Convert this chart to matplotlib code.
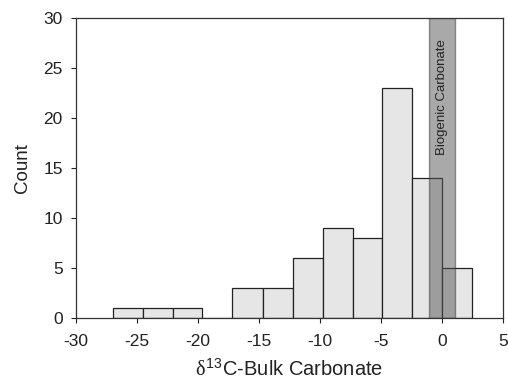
import numpy as np
import matplotlib
matplotlib.use('Agg')
import matplotlib.pyplot as plt

plt.rcParams['font.family'] = ['Liberation Sans', 'DejaVu Sans']
plt.rcParams['axes.unicode_minus'] = False
plt.rcParams['mathtext.fontset'] = 'custom'
plt.rcParams['mathtext.rm'] = 'Liberation Sans'
plt.rcParams['mathtext.it'] = 'Liberation Serif'

# bin edges and counts
bin_edges = [-27.0, -24.54, -22.08, -19.63, -17.17, -14.71, -12.25,
             -9.79, -7.33, -4.88, -2.42, 0.04, 2.5]
counts = [1, 1, 1, 0, 3, 3, 6, 9, 8, 23, 14, 5]

band_lo, band_hi = -1.1, 1.1
band_label = "Biogenic Carbonate"

fig = plt.figure(figsize=(5.08, 3.8), dpi=100)
ax = fig.add_axes([0.1496, 0.163, 0.8404, 0.7896])

ax.hist(bin_edges[:-1], bins=bin_edges, weights=counts,
        facecolor='#e6e6e6', edgecolor='#222222', linewidth=0.9)

ax.axvspan(band_lo, band_hi, facecolor='#555555', alpha=0.5,
           edgecolor='#333333', linewidth=1.0, zorder=3)
ax.text((band_lo + band_hi) / 2, 27.9, band_label, rotation=90,
        ha='center', va='top', fontsize=9.5, color='#222222', zorder=4)

ax.set_xlim(-30, 5)
ax.set_ylim(0, 30)
ax.set_xticks(np.arange(-30, 6, 5))
ax.set_yticks(np.arange(0, 31, 5))
ax.tick_params(direction='out', length=3.5, width=0.8, labelsize=12.5,
               colors='#222222')
ax.tick_params(axis='x', pad=8)
ax.tick_params(axis='y', pad=6)

for s in ax.spines.values():
    s.set_color('#333333')
    s.set_linewidth(0.9)

ax.set_xlabel(r'$\delta^{13}$C-Bulk Carbonate', fontsize=14.5,
              color='#222222', labelpad=7)
ax.set_ylabel('Count', fontsize=13.5, color='#222222', labelpad=9)

fig.savefig('out.png', dpi=100)
